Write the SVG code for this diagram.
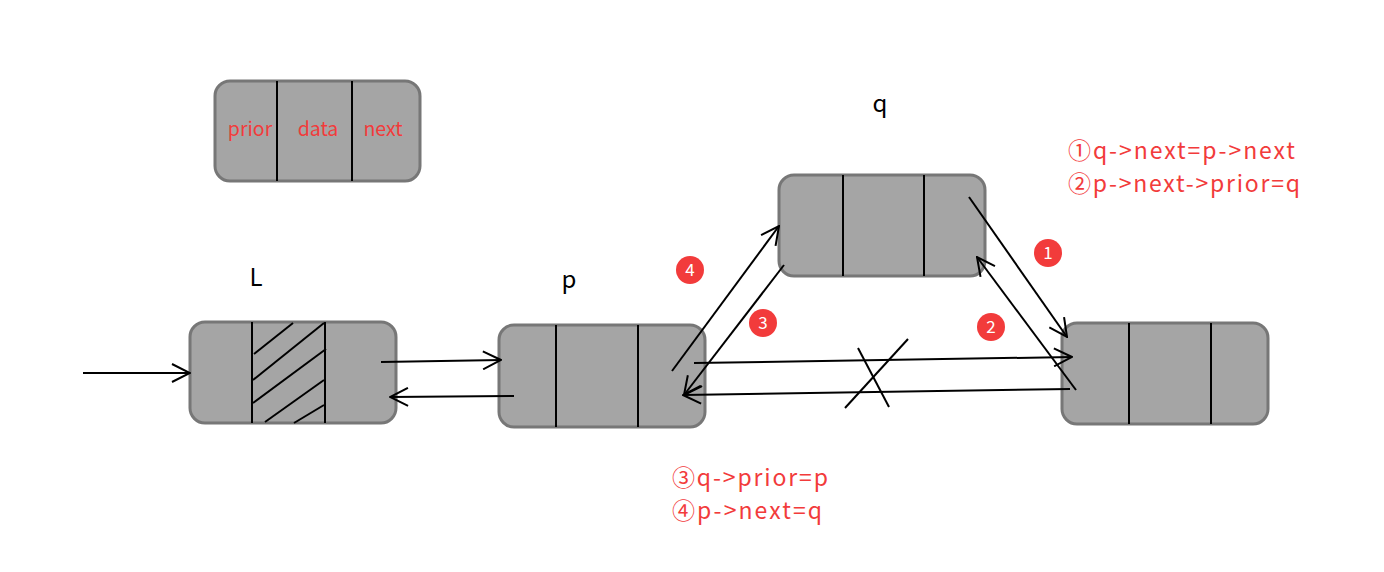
<svg xmlns="http://www.w3.org/2000/svg" width="1384" height="572" viewBox="0 0 1384 572">
<style>
.box{fill:#a5a5a5;stroke:#777;stroke-width:3}
.div{stroke:#000;stroke-width:2}
.ln{stroke:#000;stroke-width:2;fill:none}
.arr{stroke:#000;stroke-width:2;fill:none;marker-end:url(#a)}
.red{fill:#f23b3b;font-family:"Noto Sans CJK SC","Noto Sans",sans-serif}
.lbl{fill:#000;font-family:"Noto Sans CJK SC","Noto Sans",sans-serif;font-size:24px;text-anchor:middle}
.dot{fill:#f23b3b}
.num{fill:#fff;font-family:"Noto Sans CJK SC","Noto Sans",sans-serif;font-size:17px;text-anchor:middle}
</style>
<defs>
<marker id="a" viewBox="0 0 20 20" refX="19" refY="10" markerWidth="20" markerHeight="20" markerUnits="userSpaceOnUse" orient="auto">
<path d="M1,1 L19,10 L1,19" fill="none" stroke="#000" stroke-width="2"/>
</marker>
</defs>
<rect width="1384" height="572" fill="#fff"/>
<g id="legend">
<rect class="box" x="215" y="81" width="205" height="100" rx="15"/>
<line class="div" x1="277" y1="81" x2="277" y2="181"/>
<line class="div" x1="352" y1="81" x2="352" y2="181"/>
<text class="red" x="250" y="136" font-size="19.5" text-anchor="middle">prior</text>
<text class="red" x="318" y="136" font-size="19.5" text-anchor="middle">data</text>
<text class="red" x="383" y="136" font-size="19.5" text-anchor="middle">next</text>
</g>
<g id="nodeL">
<rect class="box" x="190" y="322" width="206" height="101" rx="15"/>
<line class="div" x1="252" y1="322" x2="252" y2="423"/>
<line class="div" x1="325" y1="322" x2="325" y2="423"/>
<line class="ln" x1="254" y1="354" x2="293" y2="323"/>
<line class="ln" x1="253" y1="380" x2="324" y2="323"/>
<line class="ln" x1="253" y1="403" x2="326" y2="349"/>
<line class="ln" x1="265" y1="422" x2="324" y2="380"/>
<line class="ln" x1="294" y1="423" x2="324" y2="405"/>
<text class="lbl" x="256" y="286">L</text>
</g>
<g id="nodeP">
<rect class="box" x="499" y="325" width="206" height="102" rx="15"/>
<line class="div" x1="556" y1="325" x2="556" y2="427"/>
<line class="div" x1="638" y1="325" x2="638" y2="427"/>
<text class="lbl" x="569" y="288">p</text>
</g>
<g id="nodeQ">
<rect class="box" x="779" y="175" width="206" height="101" rx="15"/>
<line class="div" x1="843" y1="175" x2="843" y2="276"/>
<line class="div" x1="924" y1="175" x2="924" y2="276"/>
<text class="lbl" x="880" y="112">q</text>
</g>
<g id="nodeN">
<rect class="box" x="1062" y="323" width="206" height="101" rx="15"/>
<line class="div" x1="1129" y1="323" x2="1129" y2="424"/>
<line class="div" x1="1211" y1="323" x2="1211" y2="424"/>
</g>
<g id="connectors">
<line class="arr" x1="83" y1="373" x2="190" y2="373"/>
<line class="arr" x1="381" y1="362" x2="501" y2="360"/>
<line class="arr" x1="514" y1="396" x2="390" y2="397"/>
<line class="arr" x1="969" y1="197" x2="1067" y2="337"/>
<line class="arr" x1="1076" y1="390" x2="977" y2="257"/>
<line class="arr" x1="784" y1="265" x2="684" y2="395"/>
<line class="arr" x1="672" y1="371" x2="779" y2="226"/>
<line class="arr" x1="694" y1="363" x2="1072" y2="357"/>
<line class="arr" x1="1070" y1="389" x2="683" y2="395"/>
<line class="ln" x1="858" y1="348" x2="889" y2="407"/>
<line class="ln" x1="908" y1="339" x2="845" y2="408"/>
</g>
<g id="badges">
<circle class="dot" cx="690" cy="270" r="14"/><text class="num" x="690" y="276">4</text>
<circle class="dot" cx="763" cy="323" r="14"/><text class="num" x="763" y="329">3</text>
<circle class="dot" cx="1048" cy="253" r="14"/><text class="num" x="1048" y="259">1</text>
<circle class="dot" cx="991" cy="327" r="14"/><text class="num" x="991" y="333">2</text>
</g>
<g id="notes">
<text class="red" x="1068" y="159" font-size="23" textLength="227" lengthAdjust="spacing">①q-&gt;next=p-&gt;next</text>
<text class="red" x="1068" y="192" font-size="23" textLength="232" lengthAdjust="spacing">②p-&gt;next-&gt;prior=q</text>
<text class="red" x="672" y="486" font-size="23" textLength="156" lengthAdjust="spacing">③q-&gt;prior=p</text>
<text class="red" x="672" y="519" font-size="23" textLength="150" lengthAdjust="spacing">④p-&gt;next=q</text>
</g>
</svg>
